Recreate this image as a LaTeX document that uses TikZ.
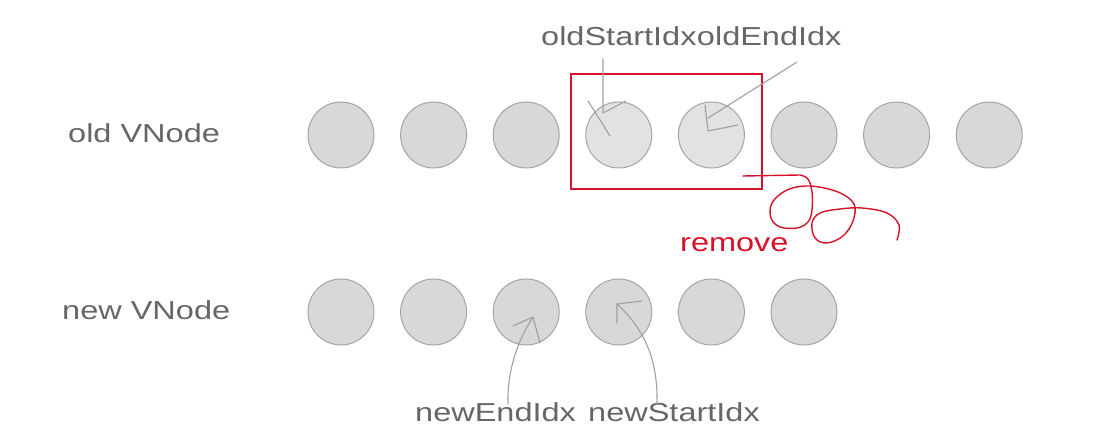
\documentclass[tikz,border=0pt]{standalone}
\usepackage{fontspec}
\setmainfont[FakeStretch=1.25]{Liberation Sans}
\definecolor{txt}{HTML}{666666}
\definecolor{cfill}{HTML}{D8D8D8}
\definecolor{clight}{HTML}{E2E2E2}
\definecolor{cstroke}{HTML}{A4A4A4}
\definecolor{ptrc}{HTML}{A0A0A0}
\definecolor{redc}{HTML}{D5122A}
\begin{document}
\begin{tikzpicture}[x=1pt,y=-1pt,
  vn/.style={circle, draw=cstroke, fill=cfill, minimum size=66pt, inner sep=0pt, line width=1pt},
  vnl/.style={vn, fill=clight},
  lab/.style={text=txt, font=\fontsize{26}{31}\selectfont, inner sep=0pt, anchor=base west},
  ptr/.style={draw=ptrc, line width=1.1pt, line cap=round, line join=round},
  redline/.style={draw=redc, line width=1.4pt, line cap=round, line join=round}]
\useasboundingbox (0,0) rectangle (1117,443);
% labels
\node[lab] (oldlab) at (68,143) {old VNode};
\node[lab] (newlab) at (62,320) {new VNode};
\node[lab] (os) at (541,46) {oldStartIdx};
\node[lab] (oe) at (os.base east) {oldEndIdx};
\node[lab, text=redc] (rm) at (680,252) {remove};
\node[lab] (ne) at (415,422) {newEndIdx};
\node[lab] (ns) at (588,422) {newStartIdx};
% old row
\node[vn]  (o1) at (341,135) {};
\node[vn]  (o2) at (433.6,135) {};
\node[vn]  (o3) at (526.2,135) {};
\node[vnl] (o4) at (618.8,135) {};
\node[vnl] (o5) at (711.4,135) {};
\node[vn]  (o6) at (804,135) {};
\node[vn]  (o7) at (896.6,135) {};
\node[vn]  (o8) at (989.2,135) {};
% new row
\node[vn] (n1) at (341,312) {};
\node[vn] (n2) at (433.6,312) {};
\node[vn] (n3) at (526.2,312) {};
\node[vn] (n4) at (618.8,312) {};
\node[vn] (n5) at (711.4,312) {};
\node[vn] (n6) at (804,312) {};
% red box
\node[draw=redc, line width=1.4pt, minimum width=191pt, minimum height=115pt, inner sep=0pt] (box) at (666.5,131.5) {};
% pointers old
\coordinate (osA) at (603,59);
\coordinate (oeA) at (797,62);
\draw[ptr] (osA) -- (603,113) -- (626,101);
\draw[ptr] (588,101) -- (610,136);
\draw[ptr] (oeA) -- (708,118);
\draw[ptr] (705,105) -- (708,131) -- (738,125);
% pointers new
\coordinate (neA) at (508,404);
\coordinate (nsA) at (657,404);
\draw[ptr] (neA) .. controls (507,370) and (518,340) .. (533,317);
\draw[ptr] (513,326) -- (533,317) -- (540,343);
\draw[ptr] (nsA) .. controls (658,360) and (645,330) .. (617,304);
\draw[ptr] (642,301) -- (617,304) -- (617,323);
% red scribble
\draw[redline] (743,176) -- (800,175) plot[smooth, tension=0.6] coordinates {
 (800,175) (808,179) (812,192) (812,210) (808,222) (797,228) (780,227) (771,218) (772,203)
 (787,190) (810,186) (838,192) (854,204) (853,221) (843,236) (827,243) (815,238) (812,223)
 (820,213) (840,209) (862,208) (887,213) (899,225) (897,240)};
\end{tikzpicture}
\end{document}
